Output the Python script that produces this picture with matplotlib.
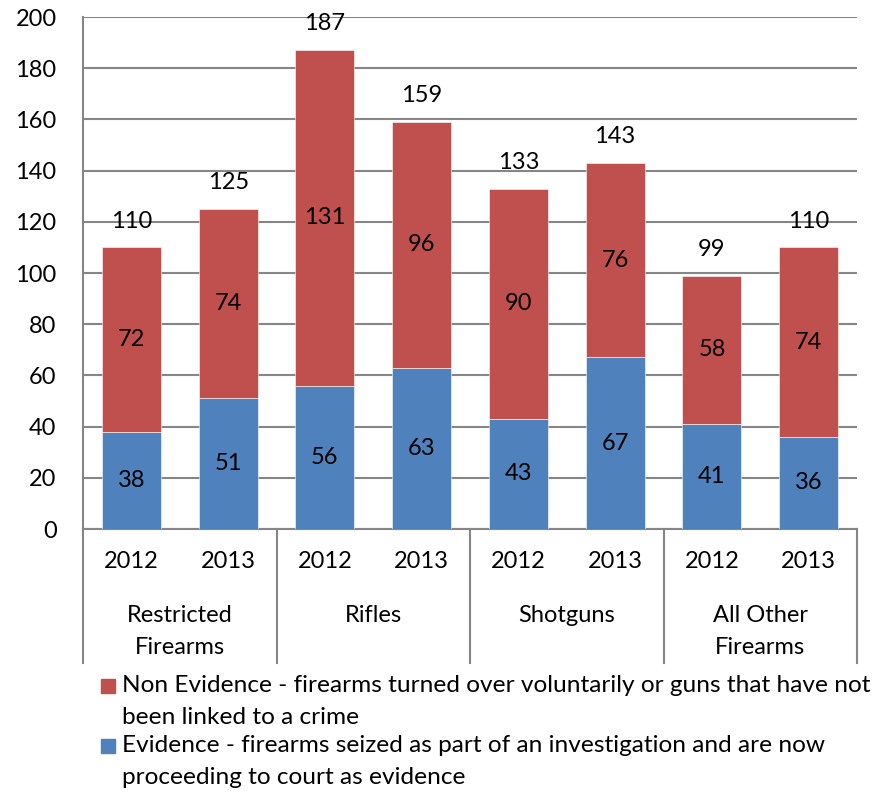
import numpy as np
import matplotlib.pyplot as plt
from matplotlib.patches import Rectangle

# data
groups = ['Restricted\nFirearms', 'Rifles', 'Shotguns', 'All Other\nFirearms']
years = ['2012', '2013']
evidence = [38, 51, 56, 63, 43, 67, 41, 36]
non_evidence = [72, 74, 131, 96, 90, 76, 58, 74]
legend_labels = [
    'Non Evidence - firearms turned over voluntarily or guns that have not\nbeen linked to a crime',
    'Evidence - firearms seized as part of an investigation and are now\nproceeding to court as evidence',
]

RED = '#C0504D'
BLUE = '#4F81BD'
GRID = '#868686'

plt.rcParams['font.family'] = ['Lato', 'DejaVu Sans']
FS = 17

W, H = 873, 794
fig = plt.figure(figsize=(W / 100, H / 100), dpi=100)
ax = fig.add_axes([83 / W, 1 - 529 / H, (857 - 83) / W, 512 / H])

x = np.arange(len(evidence))
totals = np.array(evidence) + np.array(non_evidence)

# bars
b1 = ax.bar(x, evidence, width=0.61, color=BLUE, edgecolor='white', linewidth=0.4, zorder=3)
b2 = ax.bar(x, non_evidence, bottom=evidence, width=0.61, color=RED,
            edgecolor='white', linewidth=0.4, zorder=3)
ax.bar_label(b1, labels=[str(v) for v in evidence], label_type='center', fontsize=FS, zorder=5)
ax.bar_label(b2, labels=[str(v) for v in non_evidence], label_type='center', fontsize=FS, zorder=5)
for xi, t in zip(x, totals):
    ax.annotate(str(t), (xi, t), xytext=(0, 19), textcoords='offset points',
                ha='center', va='center', fontsize=FS, zorder=5)

# axes styling
ax.set_xlim(-0.5, len(evidence) - 0.5)
ax.set_ylim(0, 200)
ax.set_yticks(np.arange(0, 201, 20))
ax.tick_params(axis='y', length=0, pad=19, labelsize=FS)
ax.set_xticks([])
ax.yaxis.grid(True, color=GRID, linewidth=1.5, zorder=0)
ax.set_axisbelow(True)
for s in ['top', 'right']:
    ax.spines[s].set_visible(False)
for s in ['left', 'bottom']:
    ax.spines[s].set_color(GRID)
    ax.spines[s].set_linewidth(1.5)

# two-level category axis
def ay(py):
    return (529 - py) / 512

trans = ax.get_xaxis_transform()
for k in range(len(groups) + 1):
    xs = k * 2 - 0.5
    ax.plot([xs, xs], [0, ay(663)], transform=trans, color=GRID,
            linewidth=1.5, clip_on=False)
for i, xi in enumerate(x):
    ax.text(xi, ay(562), years[i % 2], transform=trans,
            ha='center', va='center', fontsize=FS)
for k, g in enumerate(groups):
    for j, line in enumerate(g.split('\n')):
        ax.text(k * 2 + 0.5, ay(615 + 32 * j), line, transform=trans,
                ha='center', va='center', fontsize=FS)

# legend
colors = [RED, BLUE]
tops = [686, 746]
for lab, c, yt in zip(legend_labels, colors, tops):
    fig.patches.append(Rectangle((101 / W, 1 - (yt + 7) / H), 14 / W, 14 / H,
                                 transform=fig.transFigure, color=c))
    for j, line in enumerate(lab.split('\n')):
        fig.text(122 / W, 1 - (yt + 31 * j) / H, line, ha='left', va='center',
                 fontsize=17.6)

fig.savefig('out.png', dpi=100)
